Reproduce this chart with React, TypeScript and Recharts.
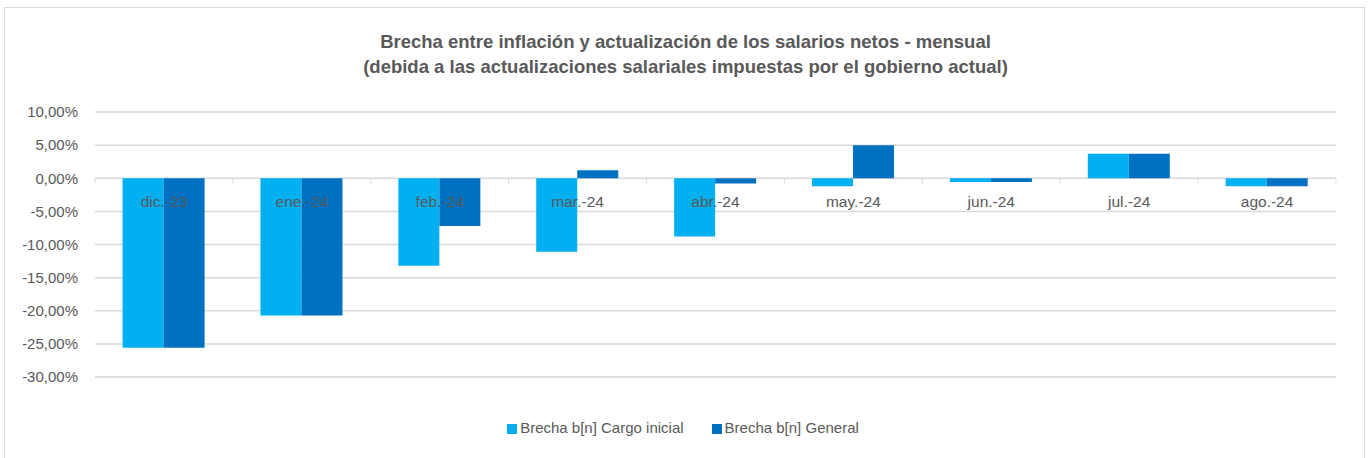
import { BarChart, Bar, XAxis, YAxis, CartesianGrid, Legend } from 'recharts';

const months = ['dic.-23', 'ene.-24', 'feb.-24', 'mar.-24', 'abr.-24', 'may.-24', 'jun.-24', 'jul.-24', 'ago.-24'];
const cargoInicial = [-25.6, -20.7, -13.2, -11.1, -8.8, -1.2, -0.55, 3.7, -1.2];
const general = [-25.6, -20.7, -7.2, 1.2, -0.8, 5.0, -0.55, 3.7, -1.2];
const yTicks = [-30, -25, -20, -15, -10, -5, 0, 5, 10];

const data = months.map((m, i) => ({ month: m, cargo: cargoInicial[i], general: general[i] }));

const CHART_W = 1360;
const CHART_H = 451;
const M_TOP = 105;
const M_RIGHT = 28;
const Y_W = 91;
const PLOT_H = 266;
const ZERO_Y = M_TOP + PLOT_H * (10 / 40);
const BAND = (CHART_W - Y_W - M_RIGHT) / months.length;

const fmt = (v: number) => v.toFixed(2).replace('.', ',') + '%';

// category labels sit just under the zero line, like the Excel original
function ZeroTick(props: any) {
    const { x, payload, index } = props;
    return (
        <g>
            <line x1={x - BAND / 2} x2={x - BAND / 2} y1={ZERO_Y} y2={ZERO_Y + 5} stroke="#d9d9d9" />
            {index === months.length - 1 && (
                <line x1={x + BAND / 2} x2={x + BAND / 2} y1={ZERO_Y} y2={ZERO_Y + 5} stroke="#d9d9d9" />
            )}
            <text x={x} y={ZERO_Y + 28} textAnchor="middle" fill="#595959" fontSize={15.5}>
                {payload.value}
            </text>
        </g>
    );
}

export default function App() {
    return (
        <div style={{ position: 'absolute', left: 0, top: 0, width: 1371, height: 458, overflow: 'hidden', background: '#fff', fontFamily: 'Arial, "Liberation Sans", sans-serif' }}>
            <div style={{ position: 'absolute', left: 4, top: 7, width: CHART_W - 1, height: 460, border: '1px solid #d9d9d9' }} />
            <div style={{ position: 'absolute', left: 0, width: 1371, top: 29, textAlign: 'center', fontWeight: 'bold', fontSize: 18.5, lineHeight: '25px', color: '#595959' }}>
                Brecha entre inflación y actualización de los salarios netos - mensual<br />
                (debida a las actualizaciones salariales impuestas por el gobierno actual)
            </div>
            <div style={{ position: 'absolute', left: 4, top: 7 }}>
                <BarChart
                    width={CHART_W}
                    height={CHART_H}
                    data={data}
                    margin={{ top: M_TOP, right: M_RIGHT, left: 0, bottom: 0 }}
                    barCategoryGap="20%"
                    barGap={0}
                >
                    <CartesianGrid vertical={false} stroke="#d9d9d9" strokeWidth={1.5} />
                    <XAxis dataKey="month" axisLine={false} tickLine={false} tick={<ZeroTick />} height={64} interval={0} />
                    <YAxis
                        domain={[-30, 10]}
                        ticks={yTicks}
                        tickFormatter={fmt}
                        axisLine={false}
                        tickLine={false}
                        tickSize={0}
                        tickMargin={17}
                        width={Y_W}
                        tick={{ fill: '#595959', fontSize: 15 }}
                        interval={0}
                    />
                    <Legend
                        verticalAlign="bottom"
                        align="center"
                        iconType="square"
                        iconSize={10}
                        wrapperStyle={{ fontSize: 15, bottom: 22, left: 18 }}
                        formatter={(value, _entry, index) => (
                            <span style={{ color: '#595959', marginLeft: -1, marginRight: index === 0 ? 18 : 0 }}>{value}</span>
                        )}
                    />
                    <Bar dataKey="cargo" name="Brecha b[n] Cargo inicial" fill="#00b0f0" isAnimationActive={false} />
                    <Bar dataKey="general" name="Brecha b[n] General" fill="#0070c0" isAnimationActive={false} />
                </BarChart>
            </div>
        </div>
    );
}
